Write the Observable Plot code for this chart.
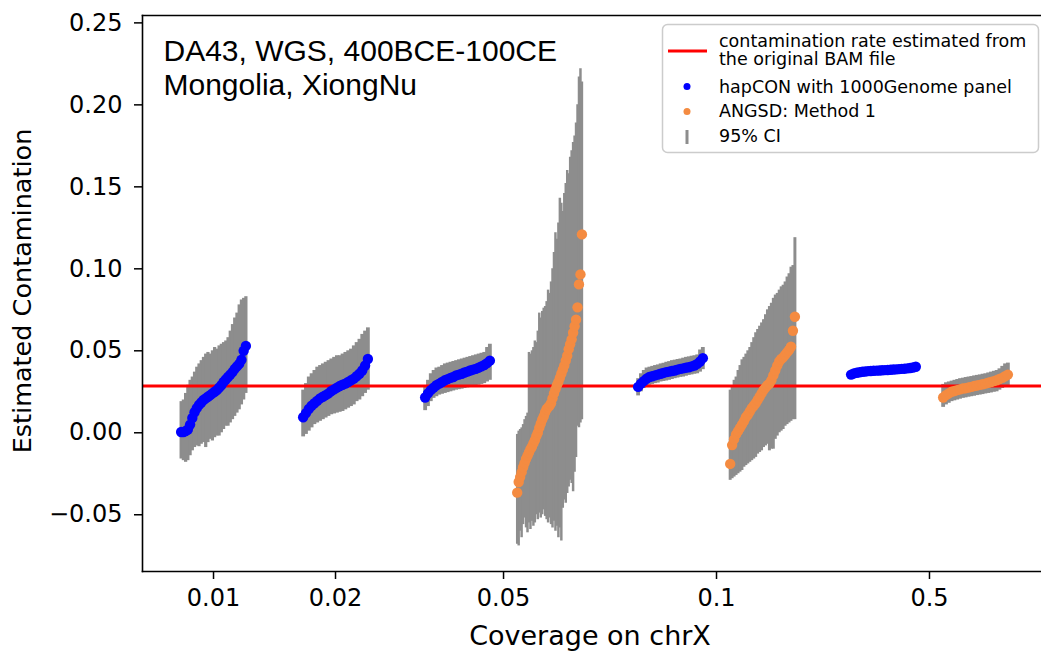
<!DOCTYPE html>
<html><head><meta charset="utf-8">
<script src="https://cdn.jsdelivr.net/npm/d3@7"></script>
<script src="https://cdn.jsdelivr.net/npm/@observablehq/plot@0.6"></script>
<style>
body{margin:0;background:#fff}
#chart{position:relative;width:1041px;height:654px;overflow:hidden}
</style>
</head><body><div id="chart"></div>
<script>
// ---------- data ----------
const coverageLabels = ["0.01", "0.02", "0.05", "0.1", "0.5"];
const methodNames = ["hapCON with 1000Genome panel", "ANGSD: Method 1"];
const bamContamination = 0.0285;
const yTicks = [-0.05, 0.00, 0.05, 0.10, 0.15, 0.20, 0.25];

// coverage 0.01, hapCON
const est1 = [0.0005,0.0005,0.001,0.002,0.005,0.009,0.0125,0.015,0.017,0.0185,0.020,0.021,0.022,0.023,0.024,0.025,0.026,0.0275,0.029,0.031,0.0325,0.034,0.0355,0.037,0.039,0.0405,0.042,0.0445,0.050,0.053];
const lo1  = [-0.016,-0.017,-0.018,-0.017,-0.014,-0.011,-0.009,-0.008,-0.0085,-0.007,-0.006,-0.009,-0.006,-0.004,-0.005,-0.003,-0.002,-0.002,0.000,0.002,0.004,0.004,0.006,0.008,0.010,0.012,0.014,0.017,0.020,0.024];
const hi1  = [0.019,0.020,0.024,0.029,0.032,0.034,0.037,0.040,0.042,0.044,0.046,0.048,0.049,0.048,0.050,0.052,0.051,0.053,0.054,0.055,0.056,0.058,0.062,0.066,0.070,0.073,0.078,0.081,0.082,0.083];
// coverage 0.02, hapCON
const est2 = [0.0095,0.012,0.0145,0.0165,0.018,0.0195,0.021,0.022,0.023,0.024,0.0255,0.0265,0.0275,0.0285,0.0293,0.030,0.031,0.032,0.033,0.0345,0.036,0.038,0.041,0.045];
const lo2  = [-0.0025,-0.001,0.001,0.003,0.005,0.006,0.007,0.008,0.009,0.010,0.011,0.0115,0.012,0.0125,0.013,0.014,0.015,0.016,0.017,0.019,0.020,0.022,0.024,0.026];
const hi2  = [0.026,0.030,0.034,0.036,0.038,0.040,0.041,0.042,0.043,0.044,0.045,0.046,0.047,0.047,0.048,0.049,0.050,0.051,0.053,0.055,0.057,0.060,0.062,0.064];
// coverage 0.05, hapCON
const est3 = [0.0215,0.024,0.026,0.0275,0.029,0.030,0.031,0.032,0.0327,0.0335,0.034,0.035,0.0355,0.036,0.0368,0.0373,0.038,0.0385,0.039,0.0397,0.0405,0.0413,0.0425,0.044];
const lo3  = [0.0135,0.016,0.019,0.021,0.022,0.023,0.0235,0.024,0.0245,0.025,0.0255,0.026,0.0263,0.0266,0.027,0.0274,0.0278,0.028,0.0285,0.029,0.0295,0.030,0.031,0.032];
const hi3  = [0.028,0.032,0.036,0.038,0.0395,0.040,0.041,0.042,0.0425,0.043,0.0435,0.044,0.0445,0.045,0.0455,0.046,0.0465,0.047,0.0475,0.048,0.0485,0.049,0.052,0.054];
// coverage 0.05, ANGSD
const est4 = [-0.0365,-0.030,-0.027,-0.024,-0.021,-0.0185,-0.016,-0.014,-0.012,-0.010,-0.0085,-0.0065,-0.0045,-0.002,0.000,0.003,0.0055,0.008,0.010,0.0125,0.0145,0.0155,0.0165,0.018,0.021,0.024,0.0265,0.029,0.031,0.0335,0.036,0.0385,0.041,0.044,0.047,0.051,0.054,0.057,0.061,0.065,0.069,0.0765,0.0905,0.0966,0.121];
const lo4  = [-0.068,-0.069,-0.060,-0.064,-0.056,-0.052,-0.058,-0.061,-0.055,-0.059,-0.054,-0.057,-0.055,-0.050,-0.053,-0.049,-0.052,-0.050,-0.047,-0.051,-0.053,-0.055,-0.052,-0.056,-0.058,-0.054,-0.060,-0.057,-0.064,-0.058,-0.066,-0.046,-0.041,-0.043,-0.037,-0.033,-0.029,-0.031,-0.036,-0.024,-0.015,0.004,0.003,0.006,0.008];
const hi4  = [-0.001,0.001,0.002,0.003,0.005,0.008,0.010,0.012,0.049,0.048,0.050,0.052,0.056,0.055,0.062,0.073,0.070,0.074,0.076,0.077,0.080,0.087,0.085,0.092,0.100,0.110,0.122,0.118,0.128,0.143,0.140,0.135,0.146,0.152,0.160,0.158,0.168,0.172,0.177,0.181,0.189,0.200,0.217,0.222,0.214];
// coverage 0.1, hapCON
const est5 = [0.028,0.030,0.0315,0.033,0.034,0.0345,0.035,0.0355,0.036,0.0365,0.037,0.0373,0.0377,0.038,0.0385,0.039,0.0393,0.0397,0.040,0.0405,0.041,0.042,0.0435,0.0455];
const lo5  = [0.0225,0.025,0.027,0.028,0.029,0.0295,0.030,0.0303,0.031,0.0313,0.0316,0.032,0.0325,0.033,0.0334,0.0338,0.034,0.0345,0.035,0.0353,0.0357,0.036,0.037,0.0385];
const hi5  = [0.033,0.036,0.038,0.0395,0.040,0.0405,0.041,0.0414,0.042,0.0424,0.043,0.0434,0.044,0.0443,0.0447,0.045,0.0455,0.046,0.0463,0.0467,0.047,0.0475,0.0505,0.052];
// coverage 0.1, ANGSD
const est6 = [-0.019,-0.0075,-0.004,-0.001,0.001,0.003,0.005,0.007,0.0095,0.011,0.013,0.015,0.0165,0.018,0.020,0.022,0.024,0.026,0.0275,0.029,0.030,0.032,0.035,0.038,0.041,0.0435,0.045,0.046,0.0475,0.049,0.0505,0.0525,0.0622,0.0708];
const lo6  = [-0.029,-0.028,-0.027,-0.026,-0.025,-0.024,-0.023,-0.021,-0.020,-0.019,-0.018,-0.017,-0.016,-0.015,-0.013,-0.012,-0.011,-0.009,-0.008,-0.007,-0.011,-0.010,-0.010,-0.004,-0.002,0.000,0.001,0.002,0.004,0.005,0.006,0.007,0.008,0.008];
const hi6  = [0.026,0.028,0.032,0.034,0.038,0.041,0.0445,0.046,0.048,0.050,0.052,0.055,0.058,0.061,0.063,0.065,0.067,0.069,0.072,0.075,0.077,0.079,0.082,0.084,0.085,0.087,0.089,0.090,0.092,0.095,0.097,0.101,0.102,0.119];
// coverage 0.5, hapCON
const est7 = [0.0355,0.0362,0.0366,0.0369,0.0372,0.0374,0.0376,0.0377,0.0378,0.0379,0.038,0.0381,0.0382,0.0383,0.0384,0.0386,0.0387,0.0388,0.039,0.0391,0.0393,0.0395,0.0398,0.0403];
const lo7  = [0.0338,0.0348,0.0353,0.0356,0.0359,0.0361,0.0363,0.0364,0.0365,0.0366,0.0367,0.0368,0.0369,0.037,0.0371,0.0373,0.0374,0.0375,0.0377,0.0378,0.038,0.0382,0.0385,0.039];
const hi7  = [0.0368,0.0374,0.0378,0.0381,0.0384,0.0386,0.0388,0.0389,0.039,0.0391,0.0392,0.0393,0.0394,0.0395,0.0396,0.0398,0.0399,0.040,0.0402,0.0403,0.0405,0.0407,0.041,0.0416];
// coverage 0.5, ANGSD
const est8 = [0.0215,0.023,0.024,0.025,0.0255,0.026,0.0265,0.027,0.0272,0.0276,0.028,0.0285,0.0288,0.0292,0.0296,0.030,0.0305,0.031,0.0315,0.032,0.0328,0.0335,0.0345,0.0355];
const lo8  = [0.0155,0.017,0.018,0.019,0.0195,0.020,0.0205,0.021,0.0213,0.0217,0.022,0.0223,0.0227,0.023,0.0233,0.0237,0.024,0.0243,0.0247,0.025,0.026,0.027,0.028,0.0285];
const hi8  = [0.0295,0.0305,0.031,0.0315,0.032,0.0325,0.033,0.0333,0.0337,0.034,0.0343,0.0347,0.035,0.0353,0.0357,0.036,0.0365,0.037,0.0375,0.038,0.039,0.0405,0.042,0.0425];

const clusters = [
  {cov: "0.01", method: 0, est: est1, lo: lo1, hi: hi1},
  {cov: "0.02", method: 0, est: est2, lo: lo2, hi: hi2},
  {cov: "0.05", method: 0, est: est3, lo: lo3, hi: hi3},
  {cov: "0.05", method: 1, est: est4, lo: lo4, hi: hi4},
  {cov: "0.1",  method: 0, est: est5, lo: lo5, hi: hi5},
  {cov: "0.1",  method: 1, est: est6, lo: lo6, hi: hi6},
  {cov: "0.5",  method: 0, est: est7, lo: lo7, hi: hi7},
  {cov: "0.5",  method: 1, est: est8, lo: lo8, hi: hi8}
];

// ---------- layout (x in frame units 0..100) ----------
const slotCenter = {"0.01": 7.9, "0.02": 21.47, "0.05": 40.16, "0.1": 63.85, "0.5": 87.54};
const pairedCov = new Set(["0.05", "0.1", "0.5"]);
const pairOffset = 5.12, halfWidth = 3.6, pxPerUnit = 8.99;
const methodColor = ["#0000ff", "#f48b41"];
const ciColor = "#8d8d8d";
const FONT = "DejaVu Sans";

const rows = [];
for (const c of clusters) {
  const center = slotCenter[c.cov] + (pairedCov.has(c.cov) ? (c.method === 0 ? -pairOffset : pairOffset) : 0);
  const n = c.est.length;
  const w = 2 * halfWidth * pxPerUnit / (n - 1) + 1;
  for (let i = 0; i < n; i++) {
    rows.push({x: center - halfWidth + 2 * halfWidth * i / (n - 1), est: c.est[i], lo: c.lo[i], hi: c.hi[i], method: c.method, w});
  }
}
const tickPos = coverageLabels.map(l => slotCenter[l]);
const labelAt = new Map(coverageLabels.map(l => [slotCenter[l], l]));
const fmtY = d => (d < 0 ? "\u2212" : "") + d3.format(".2f")(Math.abs(d));

const plot = Plot.plot({
  width: 1041, height: 654,
  marginLeft: 142, marginRight: 0, marginTop: 15, marginBottom: 83,
  style: {fontFamily: FONT, fontSize: "24px", color: "black", background: "white", overflow: "visible"},
  x: {domain: [0, 100], axis: null},
  y: {domain: [-0.0846, 0.2545], axis: null},
  marks: [
    Plot.ruleX(rows, {x: "x", y1: "lo", y2: "hi", stroke: ciColor, strokeWidth: "w"}),
    Plot.ruleY([bamContamination], {stroke: "#ff0000", strokeWidth: 3}),
    Plot.dot(rows, {x: "x", y: "est", r: 5.2, fill: d => methodColor[d.method], stroke: null}),
    Plot.frame({anchor: "left", stroke: "black", strokeWidth: 1.6}),
    Plot.frame({anchor: "top", stroke: "black", strokeWidth: 1.6}),
    Plot.frame({anchor: "bottom", stroke: "black", strokeWidth: 1.6}),
    Plot.axisY(yTicks, {tickFormat: fmtY, tickSize: 8, tickPadding: 12, stroke: "black", strokeWidth: 1.5, label: null, fontSize: 24, fontFamily: FONT, fill: "black"}),
    Plot.axisX(tickPos, {tickFormat: d => labelAt.get(d), tickSize: 8, tickPadding: 9, stroke: "black", strokeWidth: 1.5, label: null, fontSize: 24, fontFamily: FONT, fill: "black"}),
    Plot.text(["DA43, WGS, 400BCE-100CE\nMongolia, XiongNu"], {frameAnchor: "top-left", dx: 21, dy: 22, lineAnchor: "top", textAnchor: "start", fontSize: 30, lineHeight: 1.12, fontFamily: "Liberation Sans", fill: "black"})
  ]
});
document.getElementById("chart").appendChild(plot);

const svg = d3.select(plot);
// axis titles
svg.append("text").attr("transform", "translate(31,291) rotate(-90)").attr("text-anchor", "middle")
  .style("font-family", FONT).style("font-size", "25.5px").attr("fill", "black").text("Estimated Contamination");
svg.append("text").attr("x", 590).attr("y", 645).attr("text-anchor", "middle")
  .style("font-family", FONT).style("font-size", "27px").attr("fill", "black").text("Coverage on chrX");

// legend
const lg = svg.append("g").attr("text-anchor", "start").style("font-family", FONT).style("font-size", "17.5px");
lg.append("rect").attr("x", 662.5).attr("y", 24.5).attr("width", 376).attr("height", 128).attr("rx", 5)
  .attr("fill", "white").attr("fill-opacity", 0.85).attr("stroke", "#cccccc").attr("stroke-width", 1.5);
lg.append("line").attr("x1", 668).attr("x2", 707).attr("y1", 51).attr("y2", 51).attr("stroke", "#ff0000").attr("stroke-width", 3);
lg.append("text").attr("x", 719).attr("y", 46.5).attr("fill", "black").text("contamination rate estimated from");
lg.append("text").attr("x", 719).attr("y", 65).attr("fill", "black").text("the original BAM file");
lg.append("circle").attr("cx", 687).attr("cy", 86.5).attr("r", 3.5).attr("fill", methodColor[0]);
lg.append("text").attr("x", 719).attr("y", 92.5).attr("fill", "black").text(methodNames[0]);
lg.append("circle").attr("cx", 687).attr("cy", 111.5).attr("r", 3.5).attr("fill", methodColor[1]);
lg.append("text").attr("x", 719).attr("y", 116.5).attr("fill", "black").text(methodNames[1]);
lg.append("line").attr("x1", 687).attr("x2", 687).attr("y1", 130).attr("y2", 144).attr("stroke", ciColor).attr("stroke-width", 3);
lg.append("text").attr("x", 719).attr("y", 141.5).attr("fill", "black").text("95% CI");
</script>
</body></html>
